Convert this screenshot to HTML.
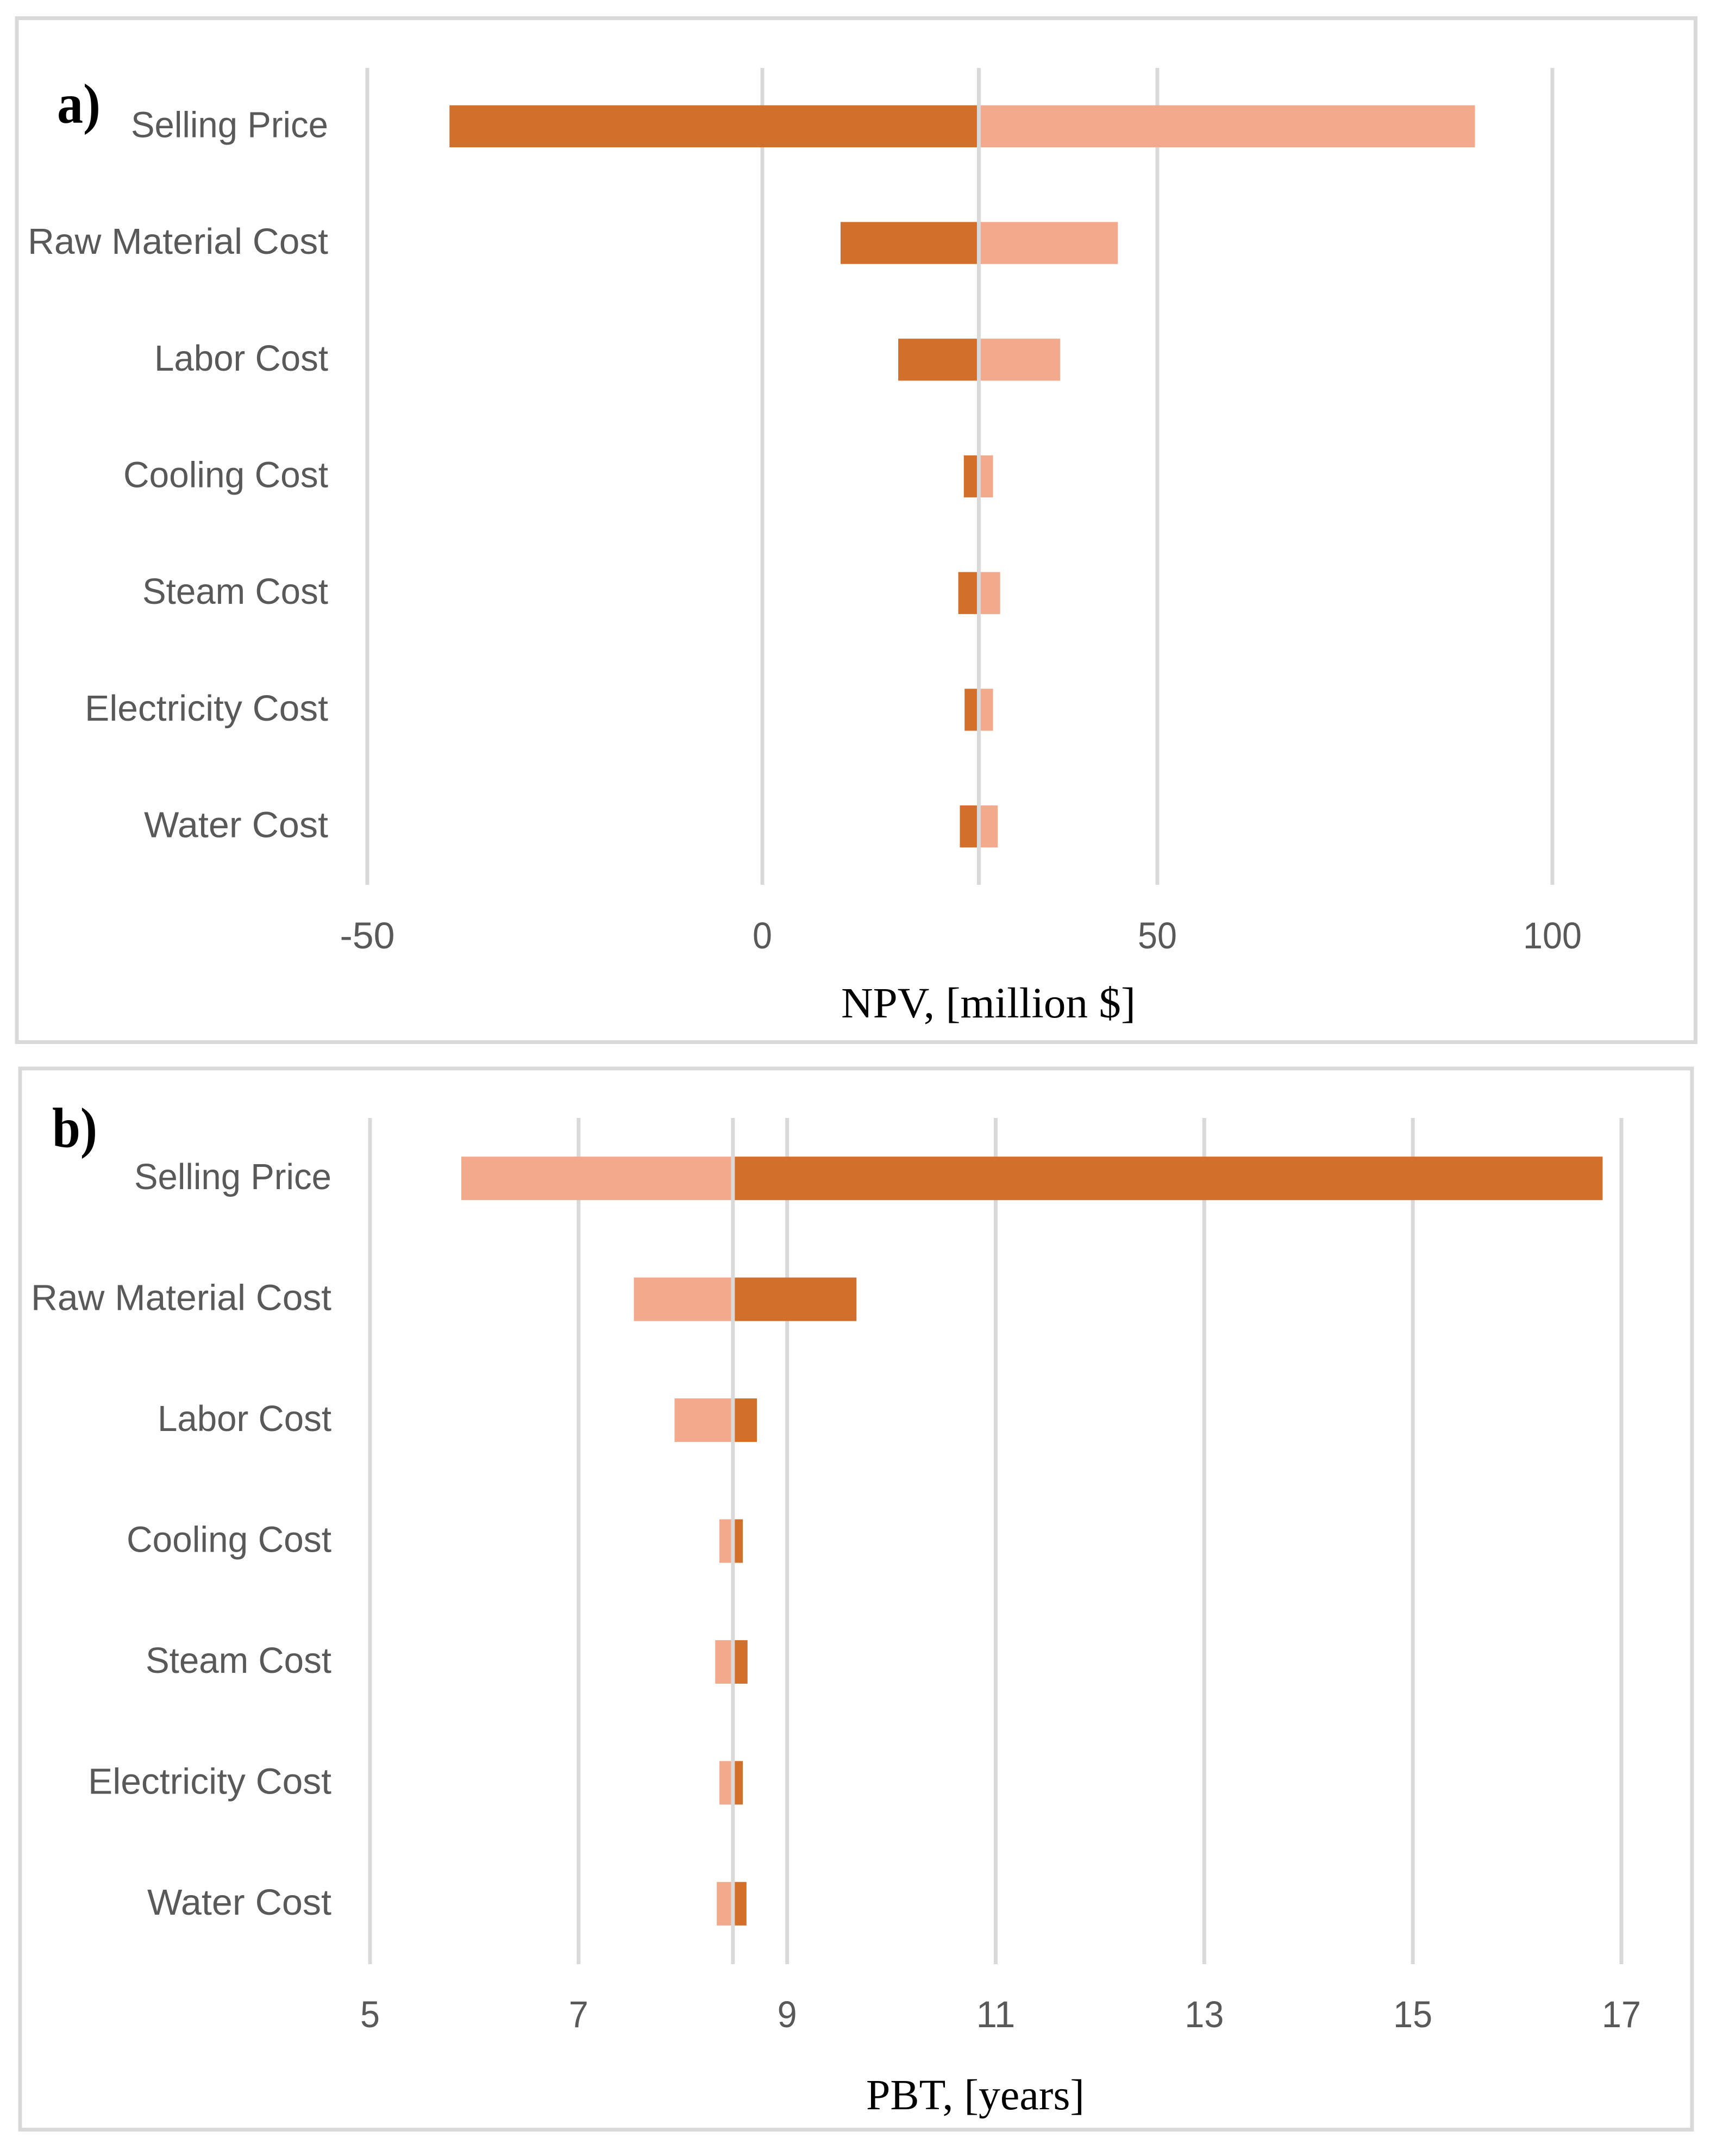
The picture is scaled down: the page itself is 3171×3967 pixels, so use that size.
<!DOCTYPE html>
<html lang="en">
<head>
<meta charset="utf-8">
<title>NPV and PBT sensitivity tornado charts</title>
<style>
html,body{margin:0;padding:0;background:#fff;}
svg{display:block;}
.cat{font-family:"Liberation Sans",sans-serif;font-size:67px;fill:#595959;text-anchor:end;}
.tick{font-family:"Liberation Sans",sans-serif;font-size:69px;fill:#595959;text-anchor:middle;}
.title{font-family:"Liberation Serif",serif;font-size:79px;fill:#000;}
.tag{font-family:"Liberation Serif",serif;font-size:104px;font-weight:bold;fill:#000;}
</style>
</head>
<body>
<svg id="chart" xmlns="http://www.w3.org/2000/svg" width="3171" height="3967" viewBox="0 0 3171 3967">
  <rect x="0" y="0" width="3171" height="3967" fill="#ffffff"/>
  <rect x="31" y="33.5" width="3089.5" height="1884" fill="none" stroke="#d9d9d9" stroke-width="7"/>
  <rect x="37" y="1966" width="3077" height="1952.5" fill="none" stroke="#d9d9d9" stroke-width="7"/>
  <g id="panel-a"></g>
  <g id="panel-b"></g>
  <text class="tag" x="105" y="226" textLength="80" lengthAdjust="spacingAndGlyphs">a)</text>
  <text class="tag" x="96" y="2110" textLength="83" lengthAdjust="spacingAndGlyphs">b)</text>
  <text class="title" x="1548" y="1872" textLength="542" lengthAdjust="spacingAndGlyphs">NPV, [million $]</text>
  <text class="title" x="1594" y="3881" textLength="402" lengthAdjust="spacingAndGlyphs">PBT, [years]</text>
</svg>
<script>
// Chart data
const categories = ['Selling Price','Raw Material Cost','Labor Cost','Cooling Cost','Steam Cost','Electricity Cost','Water Cost'];

const npvBase = 27.4;
const npvLow = [-39.6, 9.9, 17.2, 25.5, 24.8, 25.6, 25.0];
const npvHigh = [90.2, 45.0, 37.7, 29.2, 30.1, 29.2, 29.8];
const npvTicks = [-50, 0, 50, 100];

const pbtBase = 8.48;
const pbtLow = [5.875, 7.53, 7.92, 8.35, 8.31, 8.35, 8.325];
const pbtHigh = [16.82, 9.665, 8.71, 8.575, 8.62, 8.575, 8.61];
const pbtTicks = [5, 7, 9, 11, 13, 15, 17];

// Presentation
const DARK = '#d26f2b';
const LIGHT = '#f2a98c';
const GRID = '#d9d9d9';
const SVG_NS = 'http://www.w3.org/2000/svg';
const labelFit = {'Selling Price':363,'Raw Material Cost':553,'Labor Cost':320,'Cooling Cost':377,'Steam Cost':342,'Electricity Cost':448,'Water Cost':339};

function make(parent, tag, attrs, text) {
  const el = document.createElementNS(SVG_NS, tag);
  for (const k in attrs) el.setAttribute(k, attrs[k]);
  if (text !== undefined) el.textContent = text;
  parent.appendChild(el);
  return el;
}

function linear(d0, d1, r0, r1) {
  return function (v) { return r0 + (v - d0) * (r1 - r0) / (d1 - d0); };
}

function tickFit(t) {
  const s = String(t);
  return s.replace('-', '').length * 36 + (t < 0 ? 29 : 0);
}

function drawPanel(cfg) {
  const root = document.getElementById(cfg.id);
  const x = cfg.x;
  const band = (cfg.bottom - cfg.top) / categories.length;
  const barH = band * 0.36;

  cfg.ticks.forEach(function (t) {
    const line = make(root, 'rect', {x: x(t) - 3.5, y: cfg.top, width: 7, height: cfg.bottom - cfg.top, fill: GRID});
    
    
    const label = make(root, 'text', {class: 'tick', x: x(t), y: cfg.tickY, textLength: tickFit(t), lengthAdjust: 'spacingAndGlyphs'}, String(t));
    
    
  });

  categories.forEach(function (name, i) {
    const cy = cfg.top + band * (i + 0.5);
    const slug = name.toLowerCase().replace(/ /g, '-');
    const label = make(root, 'text', {class: 'cat', x: cfg.labelX, y: cy + 20, textLength: labelFit[name] || 400, lengthAdjust: 'spacingAndGlyphs'}, name);
    
    

    const lowBar = make(root, 'rect', {x: x(cfg.low[i]), y: cy - barH / 2, width: x(cfg.base) - x(cfg.low[i]), height: barH, fill: cfg.lowColor});
    
    

    const highBar = make(root, 'rect', {x: x(cfg.base), y: cy - barH / 2, width: x(cfg.high[i]) - x(cfg.base), height: barH, fill: cfg.highColor});
    
    
  });

  const baseLine = make(root, 'rect', {x: x(cfg.base) - 3.5, y: cfg.top, width: 7, height: cfg.bottom - cfg.top, fill: GRID});
  
  
}

drawPanel({
  id: 'panel-a',
  x: linear(-50, 100, 676, 2857),
  top: 125, bottom: 1628, tickY: 1745, labelX: 604,
  base: npvBase, low: npvLow, high: npvHigh, ticks: npvTicks,
  lowColor: DARK, highColor: LIGHT
});

drawPanel({
  id: 'panel-b',
  x: linear(5, 17, 681, 2984),
  top: 2057, bottom: 3614, tickY: 3730, labelX: 610,
  base: pbtBase, low: pbtLow, high: pbtHigh, ticks: pbtTicks,
  lowColor: LIGHT, highColor: DARK
});
</script>
</body>
</html>
